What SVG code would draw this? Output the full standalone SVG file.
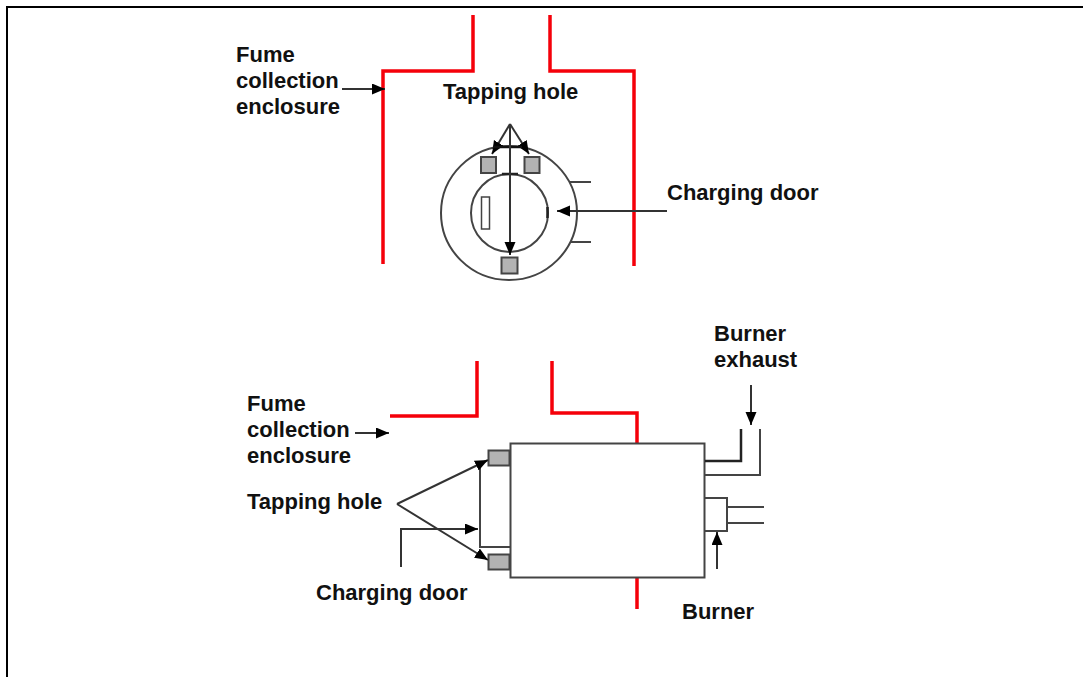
<svg xmlns="http://www.w3.org/2000/svg" width="1083" height="677" viewBox="0 0 1083 677">
<defs>
<marker id="ah" markerUnits="userSpaceOnUse" markerWidth="14" markerHeight="12" refX="13" refY="5.5" orient="auto"><path d="M0 0L13 5.5L0 11Z" fill="#000"/></marker>
</defs>
<style>
.t{font-family:"Liberation Sans",Arial,sans-serif;font-size:22px;font-weight:bold;fill:#111}
.r{fill:none;stroke:#f5000a;stroke-width:3.5}
.k{fill:none;stroke:#444;stroke-width:2}
.a{fill:none;stroke:#333;stroke-width:2;marker-end:url(#ah)}
.g{fill:#b3b3b3;stroke:#444;stroke-width:2}
</style>
<rect width="1083" height="677" fill="#fff"/>
<path id="frame" d="M7 677V7H1083" fill="none" stroke="#000" stroke-width="2"/>
<g id="top-enclosure"><path class="r" d="M383 264V71H473V15M550 15V71H634V266"/></g>
<g id="top-furnace">
<ellipse class="k" cx="509" cy="213" rx="68" ry="67"/>
<ellipse class="k" cx="509.500" cy="213" rx="38.500" ry="39"/>
<rect x="481.500" y="197" width="8" height="32" fill="#fff" stroke="#444" stroke-width="1.500"/>
<rect class="g" x="481" y="157" width="15" height="16"/>
<rect class="g" x="524.500" y="157" width="15" height="16"/>
<rect class="g" x="501.500" y="257.500" width="16" height="16"/>
<path class="k" d="M570 182H591M570 242H591"/>
<path d="M547.500 207V218M502 174H518" fill="none" stroke="#222" stroke-width="2.500"/>
</g>
<g id="bottom-enclosure"><path class="r" d="M390 416H477V361M552 361V413H637V443M637 577V609"/></g>
<g id="bottom-furnace">
<rect x="510.500" y="443.500" width="194" height="134" fill="#fff" stroke="#444" stroke-width="2"/>
<rect class="g" x="488.500" y="450.500" width="21" height="15"/>
<rect class="g" x="488.500" y="554.500" width="21" height="15"/>
<path class="k" d="M480 465V547H511"/>
<path d="M705 461H741V429" fill="none" stroke="#222" stroke-width="2.500"/>
<path class="k" d="M705 475H760V429"/>
<path class="k" d="M705 498H727V531H705M727 507H764M727 523H764"/>
</g>
<g id="connectors">
<path class="a" d="M342 89H385"/>
<path class="a" d="M510 124L492 154"/>
<path class="a" d="M510 124L529 154"/>
<path d="M493 147H522" fill="none" stroke="#111" stroke-width="2.500"/>
<path class="a" d="M510 124V255"/>
<path class="a" d="M667 211H557"/>
<path class="a" d="M355 433H389"/>
<path class="a" d="M397 504L488 460"/>
<path class="a" d="M397 504L488 560"/>
<path class="a" d="M401 567V529H478"/>
<path class="a" d="M751 385V425"/>
<path class="a" d="M717 569V532"/>
</g>
<g id="labels">
<text class="t" x="236" y="62">Fume</text>
<text class="t" x="236" y="88">collection</text>
<text class="t" x="236" y="114">enclosure</text>
<text class="t" x="443" y="99">Tapping hole</text>
<text class="t" x="667" y="200">Charging door</text>
<text class="t" x="714" y="341">Burner</text>
<text class="t" x="714" y="367">exhaust</text>
<text class="t" x="247" y="411">Fume</text>
<text class="t" x="247" y="437">collection</text>
<text class="t" x="247" y="463">enclosure</text>
<text class="t" x="247" y="509">Tapping hole</text>
<text class="t" x="316" y="600">Charging door</text>
<text class="t" x="682" y="619">Burner</text>
</g>
</svg>
